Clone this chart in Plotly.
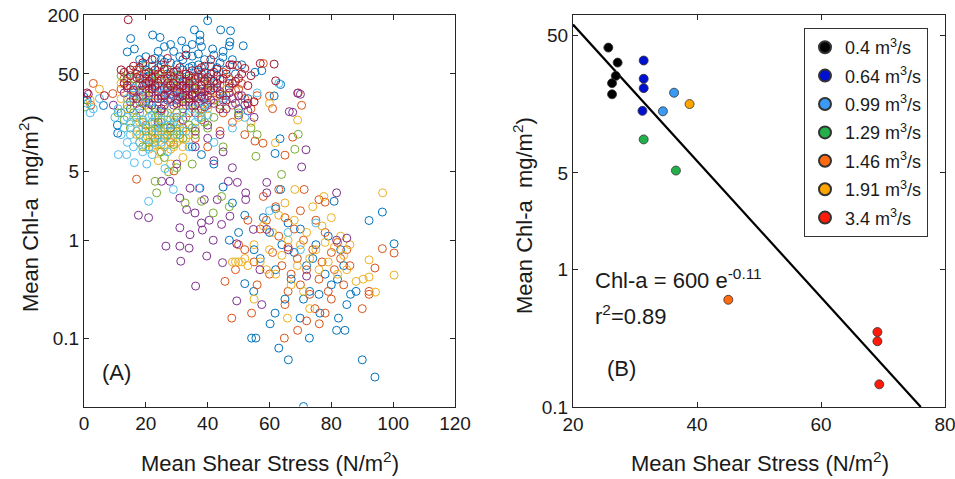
import plotly.graph_objects as go

# ---------------- Panel A data (mean shear stress, mean Chl-a) ----------------
blue_pts = [(40,175),(35.7,141),(44.2,141),(47.4,138),(15.1,115),(22.2,125),(24.6,118),(31.6,109),(37.5,125),(37.5,109),
            (47.2,106),(47,97),(51.5,97),(41.6,90),(14,84),(16.3,90),(44.9,74),(57.5,54),(55.3,52),(63.6,39),(61.5,29.8),
            (63.4,10.9),(61.8,7.7),(63.6,3.3),(80.9,2.5),(96.5,1.94),(92.2,1.59),(100.3,0.92),(86.2,0.28),(90,0.06),
            (94.1,0.04),(71,0.02),(66.1,0.06),(63,0.079),(72.9,0.1),(54.2,0.1),(55.6,0.1),(81.7,0.12),(84.4,0.12),
            (82.3,0.16),(76.3,0.18),(69.9,0.16),(61.8,0.18),(60.2,0.14),(54.9,0.30),(52,0.36),
            (0,29),(1,27),(6.3,23.8),(10.8,15),(10.9,12.4),(18,40),(20,55),(22,60),(24,45),(25,70),(26,35),(27,50),
            (28,65),(29,30),(30,42),(31,75),(32,55),(33,28),(34,38),(35,60),(36,48),(37,80),(38,33),(39,52),(40,25),
            (41,44),(42,36),(43,58),(45,30),(47,40),(50,22),(53,28),(21,30),(23,22),(19,25),(16,32),(14,45),(29,85),
            (33,90),(26,95),(58,1.7),(60,1.2),(62,2.1),(64,0.9),(66,1.5),(68,0.75),(70,1.3),(72,0.55),(74,0.65),
            (75,0.9),(78,0.45),(79,1.1),(80,0.35),(82,0.4),(83,0.8),(84,0.55),(85,0.22),(73,0.3),(71,0.25),(67,0.4),
            (65,0.25),(62,0.5),(57,0.65),(55,0.8),(50,1.2),(47,1.0),(48,2.4),(52,1.8),(76,0.28),(88,0.3),(45,3.5),
            (42,6),(38,7.5),(35,9),
            (17,50),(19,62),(21,48),(23,72),(24,58),(26,66),(27,40),(28,52),(30,62),(31,48),(32,70),(33,44),(34,58),
            (35,76),(36,38),(37,62),(38,50),(39,70),(40,42),(41,60),(42,78),(43,48),(44,65),(46,55),(48,70),(49,50),
            (51,62),(21,40),(25,28),(30,35),(36,30),(12,20),(15,22),(28,100),(35,100),(38,95),(24,85),(20,75),(45,85),
            (18,70)]
ored_pts = [(3,40),(2.2,24),(9.3,31.5),(12,35),(14,42),(16,30),(17,25),(18,48),(19,33),(20,40),(21,28),(22,45),
            (23,37),(24,30),(25,50),(26,26),(27,40),(28,34),(29,46),(30,28),(31,38),(32,32),(33,24),(34,42),(35,36),
            (36,29),(37,48),(38,22),(40,34),(42,27),(44,38),(46,30),(48,24),(50,35),(52,28),(54,22),(56,30),(58,64),
            (60,29.8),(61,22.1),(70.4,23.9),(69.3,32),(67.5,11.3),(57.9,9.8),(55.3,10.3),(65,7.4),(71.2,3.3),(78,2.45),
            (17,4.2),(29.1,5.1),(24,12),(28,10),(32,14),(36,11),(40,9),(44,13),(48,16),(52,12),(38,17),(45,20),(20,15),
            (100.3,0.74),(96.5,0.82),(94.1,0.52),(92.2,0.30),(92.2,0.28),(90,0.2),(64.8,0.1),(69.1,0.12),(76.1,0.14),
            (47.8,0.16),(54.2,0.18),(65,0.22),(74.7,0.2),(45.6,0.38),(50,0.9),(52,0.8),(55,0.6),(57,1.3),(59,1.6),
            (61,0.75),(62,2.2),(63,1.1),(64,0.55),(65,1.7),(66,0.85),(67,0.45),(68,1.3),(69,0.65),(70,0.35),(71,1.0),
            (72,0.5),(73,0.28),(74,0.8),(75,1.6),(76,0.4),(77,0.6),(78,1.2),(79,0.3),(80,0.75),(81,0.5),(82,0.95),
            (83,0.65),(84,0.35),(85,0.8),(86,0.55),(80,0.25),(66,0.3),(60,0.45),(58,2.8),(53,1.6),(49,0.5),(56,0.35),
            (63,3.3),(70,2.0),(76,2.6),(78,0.18),(72,0.15),
            (13,45),(15,38),(17,55),(19,44),(21,36),(23,48),(25,34),(27,56),(29,40),(31,31),(33,50),(35,42),(37,34),
            (39,44),(41,38),(43,30),(45,52),(47,44),(49,34),(51,40),(26,20),(30,18),(34,20),(40,24),(22,24)]
yel_pts = [(2,27),(5,35),(12,28),(14,22),(16,18),(17,12),(18,10),(19,14),(20,9),(20.5,11.5),(21,8.5),(22,12),
           (22.5,10),(23,9.5),(24,11),(24.5,8),(25,13),(26,9),(27,11.5),(28,8.5),(29,12),(30,10),(31,14),(32,9),(33,11),
           (19,20),(23,16),(27,17),(22,30),(26,42),(30,36),(34,25),(38,20),(42,28),(46,35),(50,18),(24,6.5),(28,6),
           (32,7),(54,16),(60,25),(61.9,9.9),(69.1,16.9),(68.2,3.3),(77.6,2.8),(96.6,3.05),(100.3,0.44),(92.2,0.63),
           (90.3,0.40),(92.2,0.42),(94.3,0.295),(65.8,0.16),(48,0.6),(49,0.6),(50,0.6),(51,0.6),(52,0.65),(53,0.55),
           (55,0.9),(57,0.6),(58,1.4),(60,0.8),(62,0.45),(63,1.8),(64,0.7),(66,1.0),(67,0.35),(68,1.6),(69,0.55),
           (70,0.9),(71,0.3),(72,1.2),(73,0.65),(74,2.2),(75,0.8),(76,0.5),(77,1.4),(78,0.95),(79,0.6),(80,1.7),
           (81,0.85),(82,0.45),(83,1.1),(84,0.7),(85,0.5),(86,0.9),(55,0.25),(59,0.5),(65,2.4),(61,1.2),(88,0.38),
           (73,0.2),
           (18,16),(19,11),(21,13),(22,9),(23,12.5),(24,15),(25,9.5),(26,12),(27,14),(28,11),(29,9),(30,15),(31,11),
           (32,13),(34,12),(36,14),(20,24),(24,20),(28,22),(32,24),(36,30),(40,22),(15,30),(12,40)]
pur_pts = [(1.4,31),(9.5,24),(13,32),(15,26),(17,38),(18,22),(19,30),(20,35),(21,25),(22,40),(23,28),(24,33),
           (25,21),(26,36),(27,27),(28,31),(29,24),(30,38),(31,29),(32,22),(33,34),(34,26),(35,31),(36,20),(37,28),
           (38,35),(39,23),(40,30),(42,25),(44,33),(46,22),(48,28),(50,19),(52,24),(53,21),(55,18),(24,16),(28,14),
           (32,17),(36,13),(40,15),(44,12),(69.1,31.8),(70,31),(66.4,20.6),(67.5,20.3),(71.8,8.4),(70.4,5.6),
           (81.7,3.05),(26.5,0.87),(17.6,1.8),(20.9,1.7),(31.3,0.61),(36.1,0.34),(31,0.87),(34,0.83),(31,1.34),
           (34.3,1.14),(39.7,0.69),(38.3,1.27),(38,1.5),(41.8,1.0),(40.5,1.6),(44.8,0.59),(49.4,0.92),(44.5,1.45),
           (47.2,1.76),(35.9,1.9),(33.2,2.06),(31,2.7),(38.9,2.6),(34.3,3.4),(37.5,3.4),(43.1,2.6),(46.7,4.0),
           (49.6,3.9),(52.3,3.05),(52.3,2.6),(59.1,3.9),(59.1,3.05),(54.8,1.29),(59.1,1.29),(56.9,0.5),(66.1,0.8),
           (85,1.05),(81.7,1.0),(72,0.43),(49.4,0.24),(57.5,0.22),(27.8,4.0),(25.1,4.0),(42,6.5),(45,8),(48,5.5),
           (30,6),(36,9),(40,11),
           (14,36),(16,28),(18,34),(20,26),(21,32),(22,24),(23,36),(25,30),(26,24),(27,34),(28,26),(29,36),(30,27),
           (31,33),(32,26),(33,30),(34,36),(35,24),(36,32),(37,25),(38,29),(39,33),(41,27),(43,36),(45,27),(47,32),
           (49,25),(51,30),(26,44),(33,42),(38,46),(20,45)]
grn_pts = [(0.3,23),(11,20),(13,17),(15,14),(17,18),(18,12),(19,9),(20,13),(21,10),(22,16),(23,11),(24,19),(25,8),
           (26,14),(27,12),(28,17),(29,9.5),(30,13),(32,11),(34,15),(36,12),(38,18),(40,14),(20,30),(24,45),(28,40),
           (32,28),(36,35),(44,24),(50,20),(54,14),(56,12),(55.6,7.2),(63.9,4.7),(69.3,12.1),(68.2,8.5),(32.7,2.4),
           (38,2.5),(41.8,1.9),(44.5,2.8),(47,2.2),(23,4.0),(23.5,3.05),(27.3,5.0),(30,5.5),(35,6),(26,7),(45,9),
           (15,55),(12,48),
           (14,24),(16,20),(18,26),(19,16),(21,22),(22,13),(23,18),(24,14),(25,16),(26,11),(27,20),(28,13),(29,16),
           (30,20),(31,12),(33,18),(35,14),(37,22),(39,16),(42,18),(18,38),(22,50),(26,55),(30,48),(34,45),(40,40),
           (16,45),(20,60)]
cyn_pts = [(2,20),(1,25),(3,22),(5,28),(11.1,7.5),(13.8,7.5),(16.3,6.2),(20.3,6.0),(26.2,5.4),(20.9,2.5),(28.9,3.3),
           (37.2,3.4),(12,12),(14,10),(15,16),(16,9),(17,13),(18,20),(19,8),(20,11),(21,18),(22,7.5),(23,14),(24,24),
           (25,10),(26,20),(27,8),(28,15),(30,12),(32,20),(34,9),(36,16),(38,26),(40,19),(42,10),(30,30),(34,40),
           (26,32),(20,42),(16,36),(45,28),(48,14),(52,18),(56,32),(63,40),(60,2),(70,0.8),(75,1.5),(66,1.2),
           (10,18),(11,22),(13,14),(14,18),(15,12),(17,16),(18,10),(19,17),(20,14),(21,9),(22,19),(23,10),(24,13),
           (25,17),(26,11),(27,15),(29,18),(31,16),(33,13),(35,22),(37,18),(39,24),(18,30),(22,26),(28,26),(24,36),
           (30,45),(36,55),(42,40),(14,28)]
dred_pts = [(14.3,179),(12,55),(13,52),(15,48),(16,60),(18,45),(19,38),(20,50),(21,42),(22,35),(23,55),(24,40),
            (25,62),(26,30),(27,45),(28,38),(29,52),(30,33),(31,58),(32,42),(33,36),(34,48),(35,30),(36,44),(37,55),
            (38,38),(39,28),(40,46),(41,34),(42,52),(43,40),(44,31),(45,45),(46,27),(47,36),(48,62),(49,42),(50,30),
            (52,57),(53,38),(55,26),(57,64),(61.5,63),(47.2,62),(49.6,61),(62,42.5),(17,28),(19,65),(27,72),(33,78),
            (30,25),(36,24),(44,22),(39,60),(22,70),(25,22),(34,28),(41,70),(50,45),(54,48),(53,25),(1,32),(6.6,30),
            (14,38),
            (13,40),(15,55),(17,46),(18,58),(20,40),(21,52),(22,46),(23,38),(24,50),(25,44),(26,56),(27,36),(28,48),
            (29,40),(30,54),(31,44),(32,38),(33,50),(34,40),(35,54),(36,36),(37,46),(38,58),(39,42),(40,36),(41,50),
            (42,42),(43,56),(44,44),(46,50),(48,40),(51,50),(16,34),(24,28),(32,30),(38,30),(28,28)]

panelA_series = [blue_pts, ored_pts, yel_pts, pur_pts, grn_pts, cyn_pts, dred_pts]
panelA_colors = ["#0072BD", "#D95319", "#EDB120", "#7E2F8E", "#77AC30", "#4DBEEE", "#A2142F"]

# ---------------- Panel B data (mean per discharge) ----------------
flow_labels = ["0.4 m<sup>3</sup>/s", "0.64 m<sup>3</sup>/s", "0.99 m<sup>3</sup>/s", "1.29 m<sup>3</sup>/s",
               "1.46 m<sup>3</sup>/s", "1.91 m<sup>3</sup>/s", "3.4 m<sup>3</sup>/s"]
flow_colors = ["#000000", "#0010D0", "#3A9BF5", "#22B04A", "#FF6A10", "#FFA500", "#FF1A0A"]
flow_x = [[25.7, 27.2, 26.9, 26.3, 26.3],
          [31.4, 31.4, 31.4, 31.2],
          [36.3, 34.5],
          [31.4, 36.6],
          [45.05],
          [38.8],
          [69.1, 69.1, 69.4]]
flow_y = [[40.6, 31.6, 25.3, 22.4, 18.6],
          [32.7, 24.1, 20.6, 14.1],
          [19.1, 14.0],
          [8.75, 5.2],
          [0.6],
          [15.8],
          [0.35, 0.30, 0.146]]
fit_x = [20, 76.1]
fit_y = [59.6, 0.1]

# The body margin is removed by a post script, so the figure fills the 955x479 window exactly.
W, H, OFF = 955, 479, 0
FONT = "Liberation Sans, Arial, sans-serif"
AX = "#262626"
TXT = "#1a1a1a"

fig = go.Figure()

for pts, col in zip(panelA_series, panelA_colors):
    fig.add_trace(go.Scatter(
        x=[p[0] for p in pts], y=[p[1] for p in pts], mode="markers",
        marker=dict(symbol="circle-open", size=8, color=col, line=dict(width=1, color=col)),
        xaxis="x", yaxis="y", showlegend=False, hoverinfo="x+y"))

fig.add_trace(go.Scatter(x=fit_x, y=fit_y, mode="lines", line=dict(color="black", width=2.2),
                         xaxis="x2", yaxis="y2", showlegend=False))

for i, (lab, col, xs, ys) in enumerate(zip(flow_labels, flow_colors, flow_x, flow_y)):
    fig.add_trace(go.Scatter(
        x=xs, y=ys, mode="markers", name=lab, legendgroup="g%d" % i,
        marker=dict(symbol="circle", size=9, color=col, line=dict(width=0.8, color="#333333")),
        xaxis="x2", yaxis="y2"))

def px_x(p):
    return (p - OFF) / W

def px_y(p):
    return 1 - (p - OFF) / H

axis_common = dict(showline=True, linecolor=AX, linewidth=1, mirror="ticks", ticks="inside",
                   ticklen=5, tickwidth=1, tickcolor=AX, showgrid=False, zeroline=False,
                   automargin=False, ticklabeloverflow="allow",
                   tickfont=dict(family=FONT, size=19, color=TXT))

fig.update_layout(
    width=W, height=H, margin=dict(l=0, r=0, t=0, b=0, autoexpand=False),
    paper_bgcolor="white", plot_bgcolor="white",
    font=dict(family=FONT, color=TXT),
    xaxis=dict(domain=[px_x(84), px_x(455)], range=[0, 120], tickvals=[0, 20, 40, 60, 80, 100, 120],
               anchor="y", **axis_common),
    yaxis=dict(domain=[px_y(406.5), px_y(15)], type="log", range=[-1.699, 2.3012],
               tickvals=[0.1, 1, 5, 50, 200], ticktext=["0.1", "1", "5", "50", "200"],
               anchor="x", **axis_common),
    xaxis2=dict(domain=[px_x(573), px_x(945)], range=[20, 80], tickvals=[20, 40, 60, 80],
                anchor="y2", **axis_common),
    yaxis2=dict(domain=[px_y(407), px_y(15)], type="log", range=[-1, 1.845],
                tickvals=[0.1, 1, 5, 50], ticktext=["0.1", "1", "5", "50"],
                anchor="x2", **axis_common),
    legend=dict(x=px_x(804), y=px_y(28), xanchor="left", yanchor="top",
                bgcolor="white", bordercolor="#333333", borderwidth=1, tracegroupgap=2,
                font=dict(family=FONT, size=18, color=TXT), itemsizing="constant"),
)

ann = [
    dict(text="Mean Shear Stress (N/m<sup>2</sup>)", x=270, y=462, angle=0, xa="center"),
    dict(text="Mean Shear Stress (N/m<sup>2</sup>)", x=760, y=462, angle=0, xa="center"),
    dict(text="Mean Chl-a  mg/m<sup>2</sup>)", x=29, y=214, angle=-90, xa="center"),
    dict(text="Mean Chl-a  mg/m<sup>2</sup>)", x=523, y=216, angle=-90, xa="center"),
    dict(text="(A)", x=100, y=372, angle=0, xa="left"),
    dict(text="(B)", x=605, y=368, angle=0, xa="left"),
    dict(text="Chl-a = 600 e<sup>-0.11</sup>", x=593, y=279, angle=0, xa="left"),
    dict(text="r<sup>2</sup>=0.89", x=593, y=315, angle=0, xa="left"),
]
for a in ann:
    fig.add_annotation(text=a["text"], x=px_x(a["x"]), y=px_y(a["y"]), xref="paper", yref="paper",
                       xanchor=a["xa"], yanchor="middle", textangle=a["angle"], showarrow=False,
                       font=dict(family=FONT, size=22, color=TXT))

fig.write_html("out.html", config={"displayModeBar": False},
               post_script="document.body.style.margin='0';document.body.style.overflow='hidden';")
